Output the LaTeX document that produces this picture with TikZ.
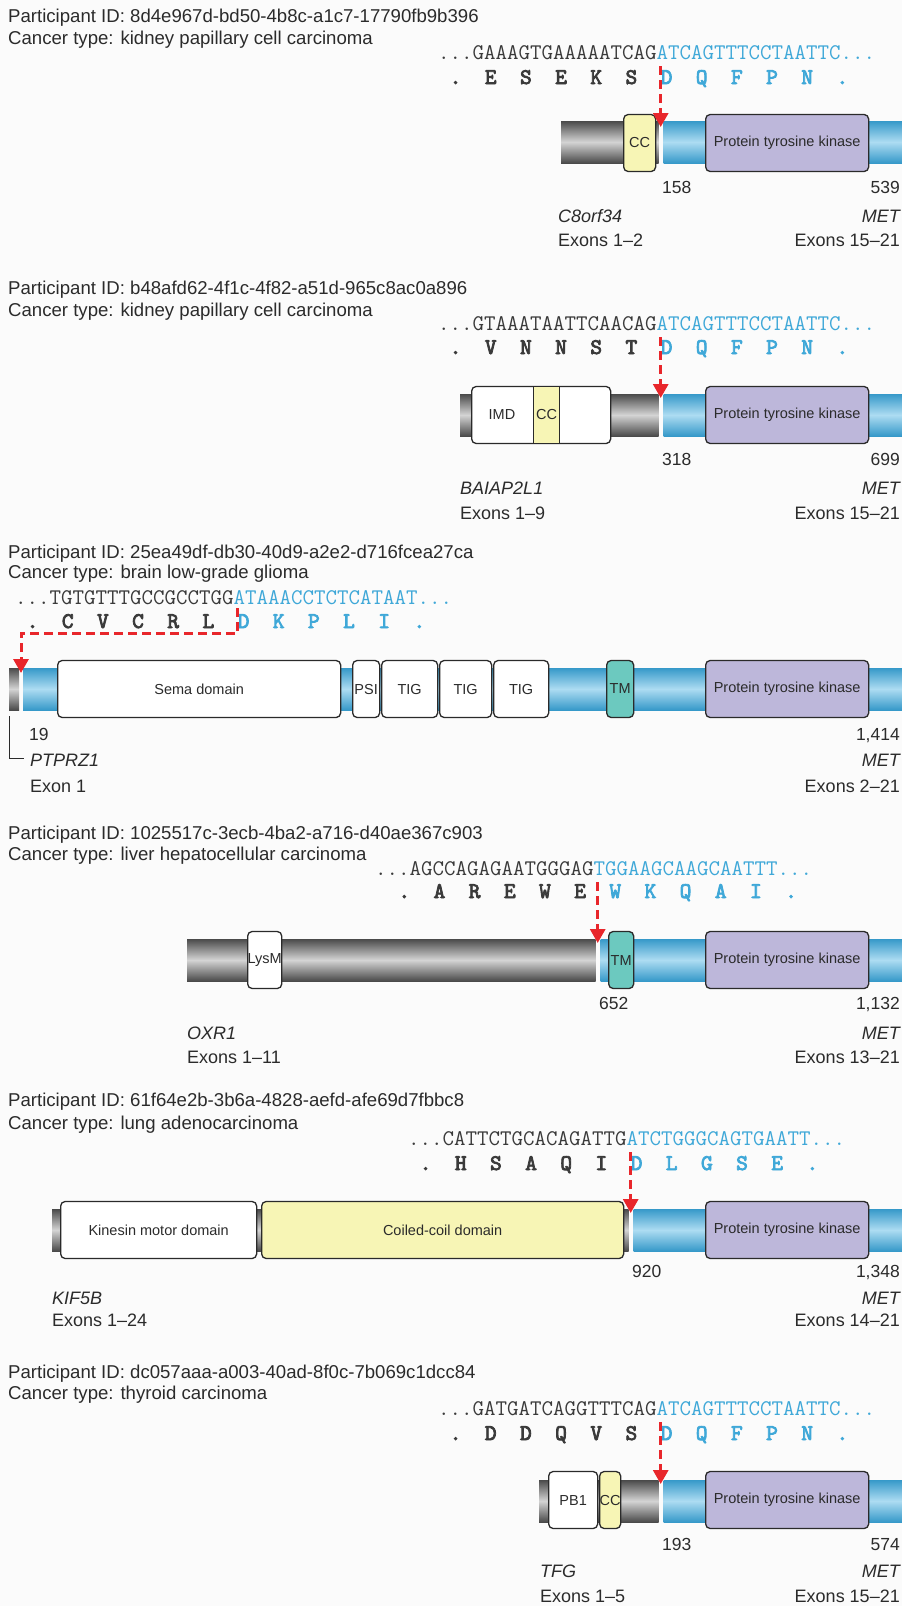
\documentclass[tikz,border=0pt]{standalone}
\usepackage{fontspec}
\setmainfont{Liberation Sans}
\newfontfamily\aafont{lmmono10-regular.otf}[FakeBold=3.5]
\usetikzlibrary{arrows.meta}
\definecolor{bg}{HTML}{FBFBFB}
\definecolor{txt}{HTML}{2B2B2B}
\definecolor{seqdark}{HTML}{3A3A3A}
\definecolor{seqblue}{HTML}{3FA8D8}
\definecolor{edge}{HTML}{2A2A2A}
\definecolor{ptkfill}{HTML}{BDB7DA}
\definecolor{ccfill}{HTML}{F7F5B5}
\definecolor{tmfill}{HTML}{6CC9BF}
\definecolor{cutred}{HTML}{E8262B}
\definecolor{gA}{HTML}{4A4A4A}
\definecolor{gB}{HTML}{D4D4D4}
\definecolor{bA}{HTML}{3699C9}
\definecolor{bB}{HTML}{ADDCF2}
\def\cw{11.72}
\tikzset{
  hdr/.style={anchor=base west, inner sep=0, font=\fontsize{18.6}{21}\selectfont, text=txt},
  genel/.style={anchor=base west, inner sep=0, font=\fontsize{18}{20}\selectfont\itshape, text=txt},
  gener/.style={anchor=base east, inner sep=0, font=\fontsize{18}{20}\selectfont\itshape, text=txt},
  exl/.style={anchor=base west, inner sep=0, font=\fontsize{18}{20}\selectfont, text=txt},
  exr/.style={anchor=base east, inner sep=0, font=\fontsize{18}{20}\selectfont, text=txt},
  numl/.style={anchor=base west, inner sep=0, font=\fontsize{17.5}{19}\selectfont, text=txt},
  numr/.style={anchor=base east, inner sep=0, font=\fontsize{17.5}{19}\selectfont, text=txt},
  dna/.style={anchor=base west, inner sep=0, font=\ttfamily\fontsize{22.32}{24}\selectfont},
  aa/.style={anchor=base, inner sep=0, font=\aafont\fontsize{22.32}{24}\selectfont},
  dom/.style={draw=edge, line width=1.3pt, rounded corners=4.5pt, minimum height=57pt,
    inner sep=0, font=\fontsize{14.5}{16}\selectfont, text=txt, anchor=west},
  ptk/.style={dom, fill=ptkfill},
  ccbox/.style={dom, fill=ccfill},
  tmbox/.style={dom, fill=tmfill},
  wbox/.style={dom, fill=white},
  ccband/.style={dom, fill=ccfill, rounded corners=0pt},
  domtext/.style={inner sep=0, font=\fontsize{14.5}{16}\selectfont, text=txt},
  cut/.style={draw=cutred, line width=3pt, dash pattern=on 9pt off 5pt,
    -{Triangle[width=15pt,length=14pt]}},
  bracket/.style={draw=txt, line width=1pt},
  graybar/.style={top color=gA, bottom color=gA, middle color=gB},
  bluebar/.style={top color=bA, bottom color=bA, middle color=bB},
}
% name, x0, baseline, start index, black letters, blue letters
\newcommand{\aarow}[6]{%
  \foreach \L [count=\i from 0] in {#5}{
    \node[aa, text=seqdark] (#1k\i) at ({#2+(#4+3*\i+0.5)*\cw},#3) {\L};
  }
  \foreach \L [count=\i from 0] in {#6}{
    \node[aa, text=seqblue] (#1b\i) at ({#2+(#4+18+3*\i+0.5)*\cw},#3) {\L};
  }
}
% style, name, x1, x2, y centre, text
\newcommand{\dombox}[6]{%
  \node[#1, minimum width={(#4)-(#3)}] (#2) at (#3,#5) {#6};
}
\begin{document}
\begin{tikzpicture}[x=1pt,y=-1pt]
\useasboundingbox (0,0) rectangle (902,1606);
\fill[bg] (0,0) rectangle (902,1606);

% ---------------- Panel 1
\node[hdr] (p1id) at (8,22.7) {Participant ID: 8d4e967d-bd50-4b8c-a1c7-17790fb9b396};
\node[hdr] (p1ct) at (8,44) {Cancer type: kidney papillary cell carcinoma};
\node[dna] (p1dna) at (438,59) {\color{seqdark}...GAAAGTGAAAAATCAG\color{seqblue}ATCAGTTTCCTAATTC...};
\aarow{p1aa}{438}{84}{1}{.,E,S,E,K,S}{D,Q,F,P,N,.}
\shade[graybar] (561,121) rectangle (658.7,163);
\shade[bluebar] (663.7,121) rectangle (902,163);
\dombox{ccbox}{p1cc}{623}{655}{143}{CC}
\dombox{ptk}{p1k}{705}{868}{143}{Protein tyrosine kinase}
\coordinate (p1s) at (660.7,66);
\coordinate (p1t) at (660.7,127);
\draw[cut] (p1s) -- (p1t);
\node[numl] (p1n1) at (662,193) {158};
\node[numr] (p1n2) at (900,193) {539};
\node[genel] (p1g1) at (558,222) {C8orf34};
\node[exl] (p1e1) at (558,246) {Exons 1–2};
\node[gener] (p1g2) at (900,222) {MET};
\node[exr] (p1e2) at (900,246) {Exons 15–21};

% ---------------- Panel 2
\node[hdr] (p2id) at (8,294) {Participant ID: b48afd62-4f1c-4f82-a51d-965c8ac0a896};
\node[hdr] (p2ct) at (8,316) {Cancer type: kidney papillary cell carcinoma};
\node[dna] (p2dna) at (438,330) {\color{seqdark}...GTAAATAATTCAACAG\color{seqblue}ATCAGTTTCCTAATTC...};
\aarow{p2aa}{438}{354}{1}{.,V,N,N,S,T}{D,Q,F,P,N,.}
\shade[graybar] (460,394) rectangle (658.7,436);
\shade[bluebar] (663.7,394) rectangle (902,436);
\dombox{wbox}{p2imd}{471}{610}{415}{}
\dombox{ccband}{p2cc}{533}{559}{415}{CC}
\node[domtext] (p2imdt) at (502,415) {IMD};
\dombox{ptk}{p2k}{705}{868}{415}{Protein tyrosine kinase}
\coordinate (p2s) at (660.7,337);
\coordinate (p2t) at (660.7,398);
\draw[cut] (p2s) -- (p2t);
\node[numl] (p2n1) at (662,465) {318};
\node[numr] (p2n2) at (900,465) {699};
\node[genel] (p2g1) at (460,494) {BAIAP2L1};
\node[exl] (p2e1) at (460,519) {Exons 1–9};
\node[gener] (p2g2) at (900,494) {MET};
\node[exr] (p2e2) at (900,519) {Exons 15–21};

% ---------------- Panel 3
\node[hdr] (p3id) at (8,558) {Participant ID: 25ea49df-db30-40d9-a2e2-d716fcea27ca};
\node[hdr] (p3ct) at (8,578) {Cancer type: brain low-grade glioma};
\node[dna] (p3dna) at (15,604) {\color{seqdark}...TGTGTTTGCCGCCTGG\color{seqblue}ATAAACCTCTCATAAT...};
\aarow{p3aa}{15}{628}{1}{.,C,V,C,R,L}{D,K,P,L,I,.}
\shade[graybar] (9,668) rectangle (19,710);
\shade[bluebar] (23,668) rectangle (902,710);
\dombox{wbox}{p3sema}{57}{340}{689}{Sema domain}
\dombox{wbox}{p3psi}{352}{379}{689}{PSI}
\dombox{wbox}{p3tig1}{381}{437}{689}{TIG}
\dombox{wbox}{p3tig2}{439}{491}{689}{TIG}
\dombox{wbox}{p3tig3}{493}{548}{689}{TIG}
\dombox{tmbox}{p3tm}{606}{633}{689}{TM}
\dombox{ptk}{p3k}{705}{868}{689}{Protein tyrosine kinase}
\coordinate (p3s) at (237.7,608);
\coordinate (p3a) at (237.7,633);
\coordinate (p3b) at (21,633);
\coordinate (p3t) at (21,673);
\draw[cut] (p3s) -- (p3a) -- (p3b) -- (p3t);
\coordinate (p3r1) at (9,716);
\coordinate (p3r2) at (9,758);
\coordinate (p3r3) at (24,758);
\draw[bracket] (p3r1) -- (p3r2) -- (p3r3);
\node[numl] (p3n1) at (29,740) {19};
\node[numr] (p3n2) at (900,740) {1,414};
\node[genel] (p3g1) at (30,766) {PTPRZ1};
\node[exl] (p3e1) at (30,792) {Exon 1};
\node[gener] (p3g2) at (900,766) {MET};
\node[exr] (p3e2) at (900,792) {Exons 2–21};

% ---------------- Panel 4
\node[hdr] (p4id) at (8,839) {Participant ID: 1025517c-3ecb-4ba2-a716-d40ae367c903};
\node[hdr] (p4ct) at (8,860) {Cancer type: liver hepatocellular carcinoma};
\node[dna] (p4dna) at (375,875) {\color{seqdark}...AGCCAGAGAATGGGAG\color{seqblue}TGGAAGCAAGCAATTT...};
\aarow{p4aa}{375}{898}{2}{.,A,R,E,W,E}{W,K,Q,A,I,.}
\shade[graybar] (187,939) rectangle (595.7,981);
\shade[bluebar] (600.7,939) rectangle (902,981);
\dombox{wbox}{p4lys}{247}{281}{960}{LysM}
\dombox{tmbox}{p4tm}{608}{633}{960}{TM}
\dombox{ptk}{p4k}{705}{868}{960}{Protein tyrosine kinase}
\coordinate (p4s) at (597.7,882);
\coordinate (p4t) at (597.7,943);
\draw[cut] (p4s) -- (p4t);
\node[numl] (p4n1) at (599,1009) {652};
\node[numr] (p4n2) at (900,1009) {1,132};
\node[genel] (p4g1) at (187,1039) {OXR1};
\node[exl] (p4e1) at (187,1063) {Exons 1–11};
\node[gener] (p4g2) at (900,1039) {MET};
\node[exr] (p4e2) at (900,1063) {Exons 13–21};

% ---------------- Panel 5
\node[hdr] (p5id) at (8,1106) {Participant ID: 61f64e2b-3b6a-4828-aefd-afe69d7fbbc8};
\node[hdr] (p5ct) at (8,1129) {Cancer type: lung adenocarcinoma};
\node[dna] (p5dna) at (408,1145) {\color{seqdark}...CATTCTGCACAGATTG\color{seqblue}ATCTGGGCAGTGAATT...};
\aarow{p5aa}{408}{1170}{1}{.,H,S,A,Q,I}{D,L,G,S,E,.}
\shade[graybar] (52,1209) rectangle (628.7,1251);
\shade[bluebar] (633.7,1209) rectangle (902,1251);
\dombox{wbox}{p5kin}{60}{256}{1230}{Kinesin motor domain}
\dombox{ccbox}{p5cc}{261}{623}{1230}{Coiled-coil domain}
\dombox{ptk}{p5k}{705}{868}{1230}{Protein tyrosine kinase}
\coordinate (p5s) at (630.7,1152);
\coordinate (p5t) at (630.7,1213);
\draw[cut] (p5s) -- (p5t);
\node[numl] (p5n1) at (632,1277) {920};
\node[numr] (p5n2) at (900,1277) {1,348};
\node[genel] (p5g1) at (52,1304) {KIF5B};
\node[exl] (p5e1) at (52,1326) {Exons 1–24};
\node[gener] (p5g2) at (900,1304) {MET};
\node[exr] (p5e2) at (900,1326) {Exons 14–21};

% ---------------- Panel 6
\node[hdr] (p6id) at (8,1378) {Participant ID: dc057aaa-a003-40ad-8f0c-7b069c1dcc84};
\node[hdr] (p6ct) at (8,1399) {Cancer type: thyroid carcinoma};
\node[dna] (p6dna) at (438,1415) {\color{seqdark}...GATGATCAGGTTTCAG\color{seqblue}ATCAGTTTCCTAATTC...};
\aarow{p6aa}{438}{1440}{1}{.,D,D,Q,V,S}{D,Q,F,P,N,.}
\shade[graybar] (539,1480) rectangle (658.7,1522);
\shade[bluebar] (663.7,1480) rectangle (902,1522);
\dombox{wbox}{p6pb1}{548}{597}{1500}{PB1}
\dombox{ccbox}{p6cc}{599}{620}{1500}{CC}
\dombox{ptk}{p6k}{705}{868}{1500}{Protein tyrosine kinase}
\coordinate (p6s) at (660.7,1422);
\coordinate (p6t) at (660.7,1484);
\draw[cut] (p6s) -- (p6t);
\node[numl] (p6n1) at (662,1550) {193};
\node[numr] (p6n2) at (900,1550) {574};
\node[genel] (p6g1) at (540,1577) {TFG};
\node[exl] (p6e1) at (540,1602) {Exons 1–5};
\node[gener] (p6g2) at (900,1577) {MET};
\node[exr] (p6e2) at (900,1602) {Exons 15–21};
\end{tikzpicture}
\end{document}
